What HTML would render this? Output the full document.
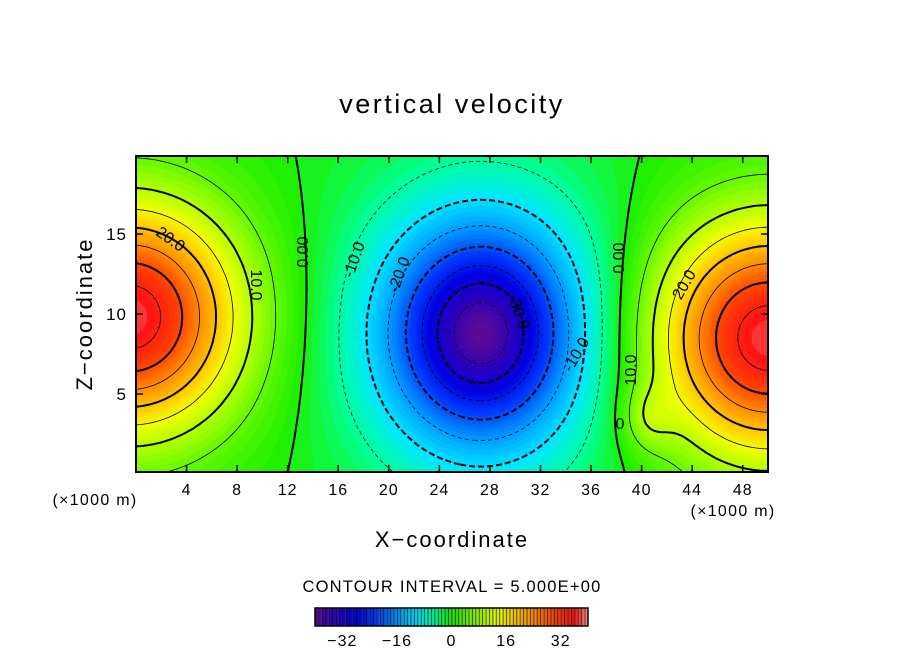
<!DOCTYPE html>
<html><head><meta charset="utf-8"><style>
body{margin:0;background:#fff;}
#wrap{position:relative;width:904px;height:654px;overflow:hidden;font-family:"Liberation Sans",sans-serif;}
canvas,svg{position:absolute;left:0;top:0;}
</style></head><body>
<div id="wrap">
<canvas id="cv" width="904" height="654"></canvas>
<svg id="sv" width="904" height="654"></svg>
</div>
<script>
// Field components: centers (x in km, z in km), amplitudes, widths, shape exponents
const blobX = [-0.5, 27.3, 50.0, 40.5];
const blobZ = [9.8, 8.8, 8.5, 3.5];
const blobAmp = [38, -40, 38, 6];
const blobSx = [8.6, 7.5, 8.8, 2];
const blobSz = [7.0, 6.8, 7.2, 2];
const blobP = [2, 1.6, 2, 2];
const xTicks = [4,8,12,16,20,24,28,32,36,40,44,48];
const zTicks = [5,10,15];
const cbTicks = [-32,-16,0,16,32];
const levels = [-35,-30,-25,-20,-15,-10,-5,0,5,10,15,20,25,30,35];

const X0=136,X1=768,Y0=156,Y1=472;
const xmin=0,xmax=50, zmin=(474-472)/16, zmax=(474-156)/16;
const sx=x=>X0+(x-xmin)/(xmax-xmin)*(X1-X0);
const sz=z=>Y1-(z-zmin)/(zmax-zmin)*(Y1-Y0);
function field(x,z){let w=0;for(let i=0;i<blobX.length;i++){const dx=(x-blobX[i])/blobSx[i],dz=(z-blobZ[i])/blobSz[i];w+=blobAmp[i]*Math.exp(-Math.pow(dx*dx+dz*dz,blobP[i]/2));}return w;}
const stops=[[-40,[90,10,150]],[-34,[40,0,190]],[-28,[0,0,225]],[-22,[0,60,255]],[-16,[0,150,255]],[-10,[0,230,255]],[-5,[0,255,150]],[0,[30,240,0]],[8,[160,255,0]],[14,[240,255,0]],[18,[255,210,0]],[24,[255,145,0]],[30,[255,70,0]],[36,[255,20,20]],[40,[255,150,150]]];
function col(v){v=Math.max(-40,Math.min(40,v));for(let i=0;i<stops.length-1;i++){const a=stops[i],b=stops[i+1];if(v<=b[0]){const t=(v-a[0])/(b[0]-a[0]);return a[1].map((c,k)=>Math.round(c+(b[1][k]-c)*t));}}return stops[stops.length-1][1];}
const cv=document.getElementById('cv'),ctx=cv.getContext('2d');
const img=ctx.createImageData(X1-X0,Y1-Y0);
for(let j=0;j<Y1-Y0;j++)for(let i=0;i<X1-X0;i++){const x=xmin+(i+0.5)/(X1-X0)*(xmax-xmin),z=zmax-(j+0.5)/(Y1-Y0)*(zmax-zmin);
 const v=Math.floor(field(x,z));const c=col(v);const p=(j*(X1-X0)+i)*4;img.data[p]=c[0];img.data[p+1]=c[1];img.data[p+2]=c[2];img.data[p+3]=255;}
ctx.putImageData(img,X0,Y0);
// colorbar
const CB0=315,CB1=588,CBY=608,CBH=18;
const cbx=v=>CB0+(v+40)/80*(CB1-CB0);
for(let v=-40;v<40;v++){const c=col(v+0.5);ctx.fillStyle=`rgb(${c})`;ctx.fillRect(cbx(v),CBY,cbx(v+1)-cbx(v),CBH);ctx.fillStyle='#000';ctx.fillRect(cbx(v),CBY,0.8,CBH);}
const NS='http://www.w3.org/2000/svg',sv=document.getElementById('sv');
function el(t,a,p){const e=document.createElementNS(NS,t);for(const k in a)e.setAttribute(k,a[k]);(p||sv).appendChild(e);return e;}
// contours via marching squares, chained into polylines
const N=160,M=80,gx=[],gz=[],G=[];
for(let i=0;i<=N;i++)gx.push(xmin+i/N*(xmax-xmin));
for(let j=0;j<=M;j++)gz.push(zmin+j/M*(zmax-zmin));
for(let j=0;j<=M;j++){G.push([]);for(let i=0;i<=N;i++)G[j].push(field(gx[i],gz[j]));}
const cg=el('g',{fill:'none',stroke:'#000','stroke-linejoin':'round'});
levels.forEach(L=>{
 const segs=[];
 for(let j=0;j<M;j++)for(let i=0;i<N;i++){
  const c=[[i,j],[i+1,j],[i+1,j+1],[i,j+1]];
  const pts=[];for(let k=0;k<4;k++){const a=c[k],b=c[(k+1)%4];const va=G[a[1]][a[0]],vb=G[b[1]][b[0]];
   if((va-L)*(vb-L)<0){const t=(L-va)/(vb-va);const x=gx[a[0]]+(gx[b[0]]-gx[a[0]])*t,z=gz[a[1]]+(gz[b[1]]-gz[a[1]])*t;
    const key=[a,b].map(q=>q.join(',')).sort().join('|');pts.push({x:sx(x),y:sz(z),key});}}
  for(let k=0;k+1<pts.length;k+=2)segs.push([pts[k],pts[k+1]]);}
 const map={};segs.forEach((s,idx)=>{s.forEach(p=>{(map[p.key]=map[p.key]||[]).push(idx);});});
 const used=new Array(segs.length).fill(false);let d='';
 for(let s0=0;s0<segs.length;s0++){if(used[s0])continue;used[s0]=true;
  let line=[segs[s0][0],segs[s0][1]];
  for(let dir=0;dir<2;dir++){
   while(true){const end=line[line.length-1];const cand=(map[end.key]||[]).find(q=>!used[q]);if(cand===undefined)break;used[cand]=true;
    const s=segs[cand];line.push(s[0].key===end.key?s[1]:s[0]);}
   line.reverse();}
  d+='M'+line.map(p=>p.x.toFixed(1)+','+p.y.toFixed(1)).join('L');}
 const thick=L%10===0;
 const p=el('path',{d,'stroke-width':thick?2:0.8},cg);
 
 
 if(L<0)p.setAttribute('stroke-dasharray',thick?'6,3':'4,3');
});
// contour labels
const labs=[[170,240,'20.0',35],[255,285,'10.0',90],[304,252,'0.00',-90],[355,260,'-10.0',-70],[400,275,'-20.0',-70],[518,312,'-30.0',70],[577,355,'-10.0',-60],[620,258,'0.00',-90],[632,370,'10.0',-90],[685,285,'20.0',-60],[620,425,'0',0]];
labs.forEach(l=>{const t=el('text',{x:l[0],y:l[1],'font-size':16,'text-anchor':'middle','dominant-baseline':'middle',transform:`rotate(${l[3]} ${l[0]} ${l[1]})`});t.textContent=l[2];});
// frame & ticks
el('rect',{x:X0,y:Y0,width:X1-X0,height:Y1-Y0,fill:'none',stroke:'#000','stroke-width':2,});
const ax=el('g',{stroke:'#000','stroke-width':1.5,});
xTicks.forEach(v=>{el('line',{x1:sx(v),x2:sx(v),y1:Y1,y2:Y1-7},ax);el('line',{x1:sx(v),x2:sx(v),y1:Y0,y2:Y0+7},ax);
 const t=el('text',{x:sx(v),y:495,'font-size':16,'text-anchor':'middle',stroke:'none','letter-spacing':1});t.textContent=v;});
zTicks.forEach(v=>{el('line',{x1:X0,x2:X0+7,y1:sz(v),y2:sz(v)},ax);el('line',{x1:X1,x2:X1-7,y1:sz(v),y2:sz(v)},ax);
 const t=el('text',{x:127,y:sz(v)+6,'font-size':17,'text-anchor':'end',stroke:'none','letter-spacing':1});t.textContent=v;});
el('rect',{x:CB0,y:CBY,width:CB1-CB0,height:CBH,fill:'none',stroke:'#000','stroke-width':1.5,});
cbTicks.forEach(v=>{const t=el('text',{x:cbx(v),y:646,'font-size':16,'text-anchor':'middle','letter-spacing':1});t.textContent=(v<0?'\u2212':'')+Math.abs(v);});
function txt(x,y,s,fs,name,extra){const t=el('text',Object.assign({x,y,'font-size':fs,'text-anchor':'middle'},extra||{}));t.textContent=s;}
txt(452,113,'vertical velocity',27,'chart-title',{'letter-spacing':2.5});
txt(452,547,'X\u2212coordinate',22,'x-axis-title',{'letter-spacing':2});
txt(92,314,'Z\u2212coordinate',22,'z-axis-title',{transform:'rotate(-90 92 314)','letter-spacing':2});
txt(95,505,'(\u00d71000 m)',16,'x-unit-left',{'letter-spacing':1.3});
txt(733,516,'(\u00d71000 m)',16,'x-unit-right',{'letter-spacing':1.3});
txt(452,592,'CONTOUR INTERVAL = 5.000E+00',16.5,'contour-interval',{'letter-spacing':1.2});
</script>
</body></html>
